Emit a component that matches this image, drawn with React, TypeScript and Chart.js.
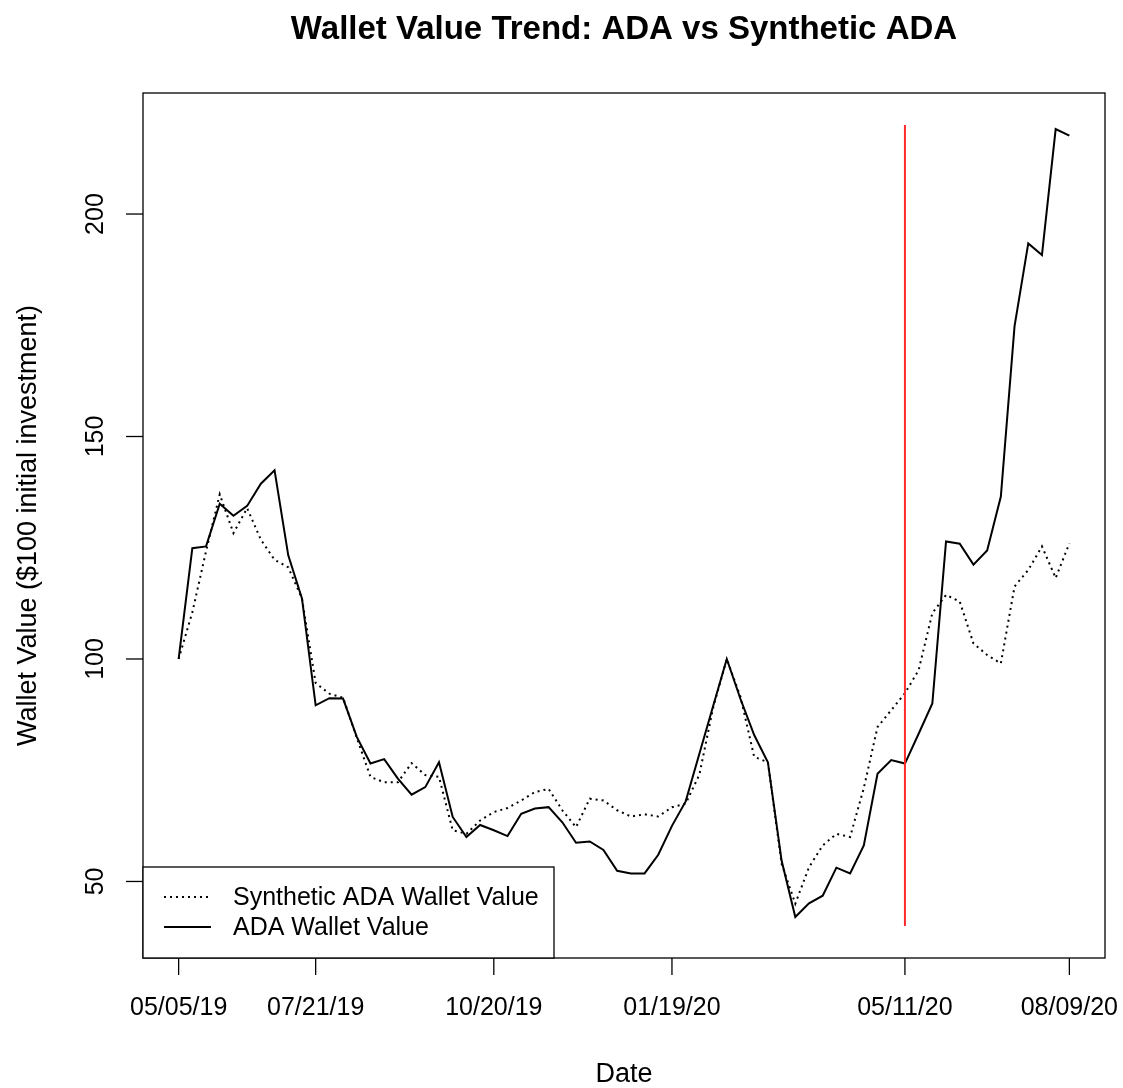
import React, { useEffect, useRef } from "react";
import { Chart, registerables } from "chart.js";

Chart.register(...registerables);

// ---- data ----
const dateTickLabels = ["05/05/19", "07/21/19", "10/20/19", "01/19/20", "05/11/20", "08/09/20"];
const dateTickIndex = [0, 10, 23, 36, 53, 65];

const adaWalletValue = [
  100, 124.9, 125.3, 134.9, 132.2, 134.4, 139.4, 142.4, 123.3, 113.6,
  89.6, 91.2, 91.1, 82.5, 76.5, 77.5, 73.1, 69.5, 71.2, 76.8,
  64.5, 60.0, 62.7, 61.5, 60.2, 65.2, 66.4, 66.7, 63.3, 58.7,
  59.0, 57.1, 52.4, 51.8, 51.8, 56.0, 62.5, 68.0, 78.7, 89.4,
  100.0, 91.0, 82.9, 76.8, 54.7, 42.0, 45.1, 46.8, 53.1, 51.8,
  58.1, 74.2, 77.3, 76.5, 83.2, 90.0, 126.4, 125.9, 121.2, 124.4,
  136.5, 174.8, 193.4, 190.8, 219.1, 217.6,
];

const syntheticWalletValue = [
  100, 110.5, 124.2, 137.0, 128.3, 133.9, 126.8, 122.3, 120.6, 113.6,
  94.6, 92.2, 91.3, 82.3, 73.5, 72.3, 72.3, 76.6, 73.9, 73.5,
  61.5, 60.7, 63.7, 65.6, 66.5, 68.2, 70.1, 70.8, 66.0, 62.2,
  68.6, 68.2, 66.0, 64.6, 65.1, 64.6, 66.7, 67.5, 74.0, 89.0,
  100.0, 91.5, 78.0, 76.8, 54.0, 45.0, 53.2, 58.1, 60.7, 60.0,
  71.0, 84.7, 88.5, 92.3, 97.5, 110.3, 114.4, 112.9, 103.5, 100.9,
  99.0, 116.3, 120.0, 125.3, 118.2, 126.0,
];

const yTickValues = [50, 100, 150, 200];
const yLimits = [40, 220];
const cutoffIndex = 53;
const cutoffRange = [40, 220];

const titleText = "Wallet Value Trend: ADA vs Synthetic ADA";
const xTitle = "Date";
const yTitle = "Wallet Value ($100 initial investment)";
const syntheticLabel = "Synthetic ADA Wallet Value";
const adaLabel = "ADA Wallet Value";

const FONT = "'Liberation Sans', Arial, sans-serif";

const decorPlugin = {
  id: "rDecor",
  afterDraw(chart: any) {
    const ctx = chart.ctx as CanvasRenderingContext2D;
    const { left, right, top, bottom } = chart.chartArea;
    const xs = chart.scales.x;
    const ys = chart.scales.y;
    ctx.save();
    ctx.strokeStyle = "#000";
    ctx.fillStyle = "#000";
    ctx.lineWidth = 1.3;

    // box
    ctx.strokeRect(left, top, right - left, bottom - top);

    // x ticks
    ctx.font = `25px ${FONT}`;
    ctx.textAlign = "center";
    ctx.textBaseline = "middle";
    dateTickIndex.forEach((v, k) => {
      const px = xs.getPixelForValue(v);
      ctx.beginPath();
      ctx.moveTo(px, bottom);
      ctx.lineTo(px, bottom + 17);
      ctx.stroke();
      ctx.fillText(dateTickLabels[k], px, 1008);
    });

    // y ticks (rotated labels)
    yTickValues.forEach((v) => {
      const py = ys.getPixelForValue(v);
      ctx.beginPath();
      ctx.moveTo(left, py);
      ctx.lineTo(left - 17, py);
      ctx.stroke();
      ctx.save();
      ctx.translate(96, py);
      ctx.rotate(-Math.PI / 2);
      ctx.fillText(String(v), 0, 0);
      ctx.restore();
    });

    // axis titles
    ctx.font = `27px ${FONT}`;
    ctx.fillText(xTitle, (left + right) / 2, 1075);
    ctx.save();
    ctx.translate(29, (top + bottom) / 2);
    ctx.rotate(-Math.PI / 2);
    ctx.fillText(yTitle, 0, 0);
    ctx.restore();

    // main title
    ctx.font = `bold 33px ${FONT}`;
    ctx.fillText(titleText, (left + right) / 2, 30);

    // legend (bottom-left)
    const lx = left, ly = 867, lw = 411, lh = bottom - 867;
    ctx.fillStyle = "#fff";
    ctx.fillRect(lx, ly, lw, lh);
    ctx.strokeStyle = "#000";
    ctx.lineWidth = 1.3;
    ctx.strokeRect(lx, ly, lw, lh);
    ctx.fillStyle = "#000";
    ctx.font = `25px ${FONT}`;
    ctx.textAlign = "left";
    const rows = [
      { label: syntheticLabel, dash: [2, 4] },
      { label: adaLabel, dash: [] as number[] },
    ];
    rows.forEach((r, k) => {
      const yy = 897 + k * 30;
      ctx.beginPath();
      ctx.lineWidth = 1.8;
      ctx.setLineDash(r.dash);
      ctx.moveTo(lx + 21, yy);
      ctx.lineTo(lx + 68, yy);
      ctx.stroke();
      ctx.setLineDash([]);
      ctx.fillText(r.label, lx + 90, yy + 1);
    });
    ctx.restore();
  },
};

export default function App() {
  const ref = useRef<HTMLCanvasElement | null>(null);
  useEffect(() => {
    if (!ref.current) return;
    const n = adaWalletValue.length;
    const xPad = (n - 1) * 0.04;
    const yPad = (yLimits[1] - yLimits[0]) * 0.04;
    const chart = new Chart(ref.current, {
      type: "line",
      data: {
        datasets: [
          {
            label: "cutoff",
            data: cutoffRange.map((y) => ({ x: cutoffIndex, y })),
            borderColor: "#ff2a2a",
            borderWidth: 2,
            pointRadius: 0,
            order: 0,
          },
          {
            label: adaLabel,
            data: adaWalletValue.map((y, i) => ({ x: i, y })),
            borderColor: "#000",
            borderWidth: 2,
            pointRadius: 0,
            tension: 0,
            order: 1,
          },
          {
            label: syntheticLabel,
            data: syntheticWalletValue.map((y, i) => ({ x: i, y })),
            borderColor: "#000",
            borderWidth: 2,
            borderDash: [2, 4],
            pointRadius: 0,
            tension: 0,
            order: 2,
          },
        ],
      },
      options: {
        responsive: false,
        animation: false,
        layout: { padding: { left: 143, right: 18, top: 93, bottom: 130 } },
        plugins: { legend: { display: false }, title: { display: false }, tooltip: { enabled: false } },
        scales: {
          x: { type: "linear", min: -xPad, max: n - 1 + xPad, display: false },
          y: { type: "linear", min: yLimits[0] - yPad, max: yLimits[1] + yPad, display: false },
        },
      },
      plugins: [decorPlugin],
    });
    return () => chart.destroy();
  }, []);
  return (
    <div style={{ position: "absolute", left: 0, top: 0, width: 1123, height: 1088, background: "#fff" }}>
      <canvas ref={ref} width={1123} height={1088} />
    </div>
  );
}
